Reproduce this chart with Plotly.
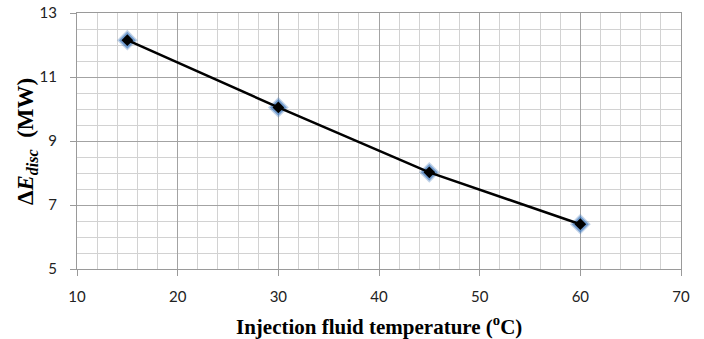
import plotly.graph_objects as go

temperature = [15, 30, 45, 60]
delta_e = [12.15, 10.05, 8.02, 6.4]

x_ticks = [10, 20, 30, 40, 50, 60, 70]
y_ticks = [5, 7, 9, 11, 13]

x_title = "<b>Injection fluid temperature (<sup>o</sup>C)</b>"
y_title = "<b>Δ<i>E</i><sub><i>disc</i></sub>  (MW)</b>"

fig = go.Figure()

# glow behind markers
fig.add_trace(go.Scatter(
    x=temperature, y=delta_e, mode="markers",
    marker=dict(symbol="diamond", size=16, color="rgba(79,129,189,0.35)", line=dict(width=0)),
    hoverinfo="skip", showlegend=False))
fig.add_trace(go.Scatter(
    x=temperature, y=delta_e, mode="markers",
    marker=dict(symbol="diamond", size=13, color="rgba(60,120,190,0.6)", line=dict(width=0)),
    hoverinfo="skip", showlegend=False))

fig.add_trace(go.Scatter(
    x=temperature, y=delta_e, mode="lines+markers",
    line=dict(color="black", width=2.5),
    marker=dict(symbol="diamond", size=9, color="black", line=dict(width=0)),
    showlegend=False))

axis_font = dict(family="Lato, Open Sans, sans-serif", size=15, color="#222")
serif = "Liberation Serif, Times New Roman, serif"

fig.update_xaxes(
    range=[10, 70], tickvals=x_ticks, ticktext=[str(v) for v in x_ticks],
    showgrid=True, gridcolor="#a3a3a3", gridwidth=1,
    minor=dict(dtick=2, tick0=10, showgrid=True, gridcolor="#d2d2d2", gridwidth=1),
    showline=True, linecolor="#9a9a9a", linewidth=1, mirror=True,
    ticks="outside", ticklen=6, tickcolor="#9a9a9a",
    ticklabelstandoff=8, automargin=False,
    tickfont=axis_font, zeroline=False)

fig.update_yaxes(
    range=[5, 13], tickvals=y_ticks, ticktext=[str(v) for v in y_ticks],
    showgrid=True, gridcolor="#a3a3a3", gridwidth=1,
    minor=dict(dtick=0.5, tick0=5, showgrid=True, gridcolor="#d2d2d2", gridwidth=1),
    showline=True, linecolor="#9a9a9a", linewidth=1, mirror=True,
    ticks="outside", ticklen=6, tickcolor="#9a9a9a",
    ticklabelstandoff=10, automargin=False,
    tickfont=axis_font, zeroline=False)

fig.add_annotation(text=x_title, xref="paper", yref="paper", x=0.5, y=-0.219,
                   xanchor="center", yanchor="middle", showarrow=False,
                   font=dict(family=serif, size=21, color="black"))
fig.add_annotation(text=y_title, xref="paper", yref="paper", x=-0.0828, y=0.5,
                   xanchor="center", yanchor="middle", showarrow=False, textangle=-90,
                   font=dict(family=serif, size=23, color="black"))

fig.update_layout(
    width=704, height=339,
    margin=dict(l=77, r=23, t=13, b=70),
    paper_bgcolor="white", plot_bgcolor="white",
    showlegend=False)

fig.write_html("out.html")
